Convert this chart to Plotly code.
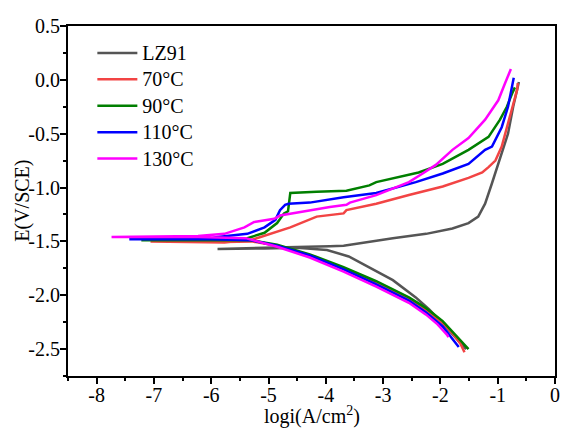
import plotly.graph_objects as go

# polarization curves: log i (A/cm2) vs E (V/SCE), ordered along the scan
lz91_logi = [-1.55, -1.65, -1.8, -2.0, -2.2, -2.43, -2.83, -3.12, -3.41, -3.6, -3.98, -4.5, -5.07, -5.89,
             -5.07, -3.93, -3.69, -2.83, -2.25, -1.79, -1.51, -1.34, -1.22, -1.1, -0.99, -0.91, -0.82, -0.73, -0.66, -0.63]
lz91_e = [-2.5, -2.44, -2.35, -2.24, -2.13, -2.02, -1.86, -1.78, -1.7, -1.64, -1.58, -1.56, -1.565, -1.57,
          -1.56, -1.545, -1.54, -1.47, -1.43, -1.38, -1.33, -1.27, -1.15, -0.96, -0.78, -0.65, -0.5, -0.25, -0.09, -0.02]

t70_logi = [-1.58, -1.65, -1.78, -1.96, -2.25, -2.55, -3.12, -3.69, -4.28, -4.85, -5.3, -5.77, -7.06,
            -5.77, -5.32, -4.97, -4.62, -4.16, -3.76, -3.69, -3.64, -3.12, -2.55, -1.96, -1.51, -1.27,
            -1.16, -1.04, -0.93, -0.84, -0.75, -0.66, -0.65]
t70_e = [-2.53, -2.45, -2.36, -2.26, -2.14, -2.04, -1.89, -1.75, -1.63, -1.54, -1.5, -1.505, -1.5,
         -1.51, -1.49, -1.43, -1.37, -1.27, -1.25, -1.24, -1.21, -1.15, -1.07, -0.99, -0.91, -0.86,
         -0.81, -0.75, -0.62, -0.44, -0.25, -0.09, -0.03]

t90_logi = [-1.51, -1.6, -1.75, -1.96, -2.25, -2.55, -3.12, -3.69, -4.28, -4.85, -5.3, -6.0, -7.22,
            -6.0, -5.37, -5.07, -4.85, -4.73, -4.66, -4.64, -4.62, -4.16, -3.64, -3.24, -3.12, -2.38,
            -1.96, -1.51, -1.16, -0.96, -0.84, -0.75, -0.7]
t90_e = [-2.5, -2.45, -2.36, -2.24, -2.12, -2.02, -1.87, -1.74, -1.62, -1.53, -1.49, -1.49, -1.49,
         -1.485, -1.47, -1.42, -1.33, -1.24, -1.22, -1.1, -1.05, -1.04, -1.03, -0.98, -0.95, -0.86,
         -0.78, -0.65, -0.53, -0.37, -0.25, -0.13, -0.07]

t110_logi = [-1.68, -1.75, -1.85, -1.96, -2.25, -2.55, -3.12, -3.69, -4.28, -4.85, -5.3, -6.0, -7.43,
             -6.0, -5.89, -5.37, -5.07, -4.88, -4.8, -4.71, -4.65, -4.28, -3.69, -3.12, -2.43, -1.96,
             -1.51, -1.22, -1.1, -0.93, -0.82, -0.75, -0.72]
t110_e = [-2.48, -2.43, -2.36, -2.29, -2.16, -2.05, -1.9, -1.76, -1.63, -1.54, -1.49, -1.48, -1.48,
          -1.47, -1.46, -1.43, -1.37, -1.3, -1.21, -1.16, -1.15, -1.14, -1.09, -1.05, -0.95, -0.87,
          -0.78, -0.65, -0.62, -0.44, -0.25, -0.07, 0.02]

t130_logi = [-1.86, -1.88, -1.95, -2.05, -2.25, -2.55, -3.12, -3.69, -4.28, -4.85, -5.4, -6.23, -7.74,
             -6.23, -5.77, -5.42, -5.25, -4.9, -4.8, -4.5, -3.93, -3.64, -3.58, -3.12, -2.55, -2.31,
             -2.08, -1.79, -1.51, -1.22, -0.99, -0.87, -0.77]
t130_e = [-2.39, -2.37, -2.33, -2.27, -2.18, -2.07, -1.92, -1.78, -1.65, -1.55, -1.47, -1.46, -1.46,
          -1.45, -1.43, -1.37, -1.32, -1.29, -1.26, -1.23, -1.18, -1.16, -1.14, -1.07, -0.95, -0.87,
          -0.79, -0.65, -0.54, -0.37, -0.19, -0.03, 0.1]

names = ["LZ91", "70°C", "90°C", "110°C", "130°C"]
colors = ["#555555", "#f24444", "#007f00", "#0000ff", "#ff00ff"]
xs = [lz91_logi, t70_logi, t90_logi, t110_logi, t130_logi]
ys = [lz91_e, t70_e, t90_e, t110_e, t130_e]

x_ticks = [-8, -7, -6, -5, -4, -3, -2, -1, 0]
x_labels = ["-8", "-7", "-6", "-5", "-4", "-3", "-2", "-1", "0"]
y_ticks = [0.5, 0.0, -0.5, -1.0, -1.5, -2.0, -2.5]
y_labels = ["0.5", "0.0", "-0.5", "-1.0", "-1.5", "-2.0", "-2.5"]

fig = go.Figure()
for x, y, n, c in zip(xs, ys, names, colors):
    # bigger text in the legend but keep the row spacing of an 18px font
    fig.add_trace(go.Scatter(x=x, y=y, name='<span style="font-size:20px">%s</span>' % n,
                             mode="lines", line=dict(color=c, width=2.5)))

serif = "Liberation Serif"
txt = dict(family=serif, size=20, color="black")
axis = dict(showline=True, linecolor="black", linewidth=2, mirror=True,
            ticks="outside", ticklen=6, tickwidth=2, tickcolor="black",
            showgrid=False, zeroline=False, tickfont=txt)

fig.update_layout(
    width=572, height=438,
    margin=dict(l=68, r=14, t=26, b=62),
    plot_bgcolor="white", paper_bgcolor="white",
    font=txt,
    showlegend=True,
    legend=dict(x=0.05, y=0.975, xanchor="left", yanchor="top",
                bgcolor="rgba(0,0,0,0)", font=dict(family=serif, size=18, color="black"),
                tracegroupgap=0, itemwidth=40),
    xaxis=dict(axis, range=[-8.5, 0], tickvals=x_ticks, ticktext=x_labels,
               ticklabelstandoff=-6,
               minor=dict(ticks="outside", ticklen=3, tickwidth=2, tickcolor="black", dtick=0.5)),
    yaxis=dict(axis, range=[-2.75, 0.5], tickvals=y_ticks, ticktext=y_labels,
               ticklabelstandoff=-4,
               minor=dict(ticks="outside", ticklen=3, tickwidth=2, tickcolor="black", dtick=0.25)),
)

# axis titles as annotations so they sit where the reference has them
fig.add_annotation(text="logi(A/cm<sup>2</sup>)", xref="paper", yref="paper",
                   x=0.5, y=-0.113, xanchor="center", yanchor="middle",
                   showarrow=False, font=txt)
fig.add_annotation(text="E(V/SCE)", xref="paper", yref="paper",
                   x=-0.095, y=0.5, xanchor="center", yanchor="middle",
                   textangle=-90, showarrow=False, font=txt)

fig.write_html("out.html", config={"displayModeBar": False},
               post_script="document.body.style.margin='0';")
